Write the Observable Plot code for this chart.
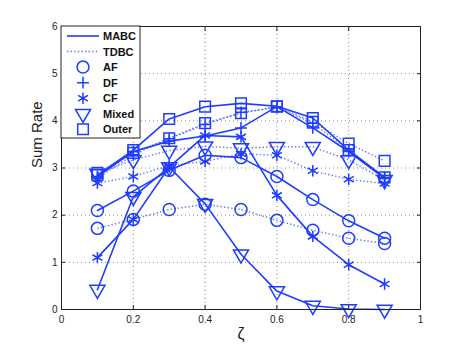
<!DOCTYPE html>
<html>
<head>
<meta charset="utf-8">
<script src="https://cdn.jsdelivr.net/npm/d3@7"></script>
<script src="https://cdn.jsdelivr.net/npm/@observablehq/plot@0.6"></script>
<style>
  html, body { margin: 0; padding: 0; background: #fff; }
  #chart { width: 463px; height: 348px; }
</style>
</head>
<body>
<div id="chart"></div>
<script>
// ---- data ----
const zeta = [0.1, 0.2, 0.3, 0.4, 0.5, 0.6, 0.7, 0.8, 0.9];

const mabcAF    = [2.10, 2.51, 2.95, 3.27, 3.22, 2.82, 2.33, 1.88, 1.51];
const tdbcAF    = [1.72, 1.91, 2.12, 2.23, 2.12, 1.89, 1.68, 1.51, 1.40];
const mabcDF    = [2.82, 3.35, 3.57, 3.68, 3.85, 4.30, 3.85, 3.35, 2.78];
const tdbcDF    = [2.78, 3.28, 3.62, 3.92, 4.18, 4.28, 3.95, 3.38, 2.80];
const mabcCF    = [1.10, 1.91, 3.02, 3.69, 3.66, 2.42, 1.55, 0.95, 0.54];
const tdbcCF    = [2.68, 2.82, 3.05, 3.14, 3.30, 3.27, 2.94, 2.76, 2.67];
const mabcMixed = [0.42, 2.39, 3.02, 2.24, 1.17, 0.39, 0.08, 0.01, 0.00];
const tdbcMixed = [2.88, 3.17, 3.37, 3.46, 3.42, 3.45, 3.45, 3.17, 2.75];
const mabcOuter = [2.85, 3.38, 4.04, 4.30, 4.37, 4.31, 4.06, 3.38, 2.80];
const tdbcOuter = [2.90, 3.32, 3.63, 3.95, 4.16, 4.30, 3.98, 3.52, 3.15];

const schemes = ["MABC", "TDBC"];
const relays = ["AF", "DF", "CF", "Mixed", "Outer"];
const xTicks = [0, 0.2, 0.4, 0.6, 0.8, 1];
const xTickLabels = ["0", "0.2", "0.4", "0.6", "0.8", "1"];
const yTicks = [0, 1, 2, 3, 4, 5, 6];
const xLabel = "ζ";
const yLabel = "Sum Rate";

// ---- build table ----
const seriesValues = {
  MABC: {AF: mabcAF, DF: mabcDF, CF: mabcCF, Mixed: mabcMixed, Outer: mabcOuter},
  TDBC: {AF: tdbcAF, DF: tdbcDF, CF: tdbcCF, Mixed: tdbcMixed, Outer: tdbcOuter}
};
const rows = [];
for (const s of schemes) for (const r of relays)
  seriesValues[s][r].forEach((v, i) => rows.push({scheme: s, relay: r, x: zeta[i], y: v}));

const BLUE = "#1f3dff";
const symbolOf = {AF: "circle", DF: "plus", CF: "asterisk", Mixed: "triangle", Outer: "square"};
const rOf = {AF: 6, DF: 3.9, CF: 5.4, Mixed: 5.6, Outer: 6};
const DOT = "1.4,2.2";

const marks = [
  Plot.gridX(xTicks, {stroke: "#888", strokeOpacity: 1, strokeDasharray: "1,3"}),
  Plot.gridY(yTicks, {stroke: "#888", strokeOpacity: 1, strokeDasharray: "1,3"}),
];
for (const s of schemes) for (const r of relays) {
  const d = rows.filter(o => o.scheme === s && o.relay === r);
  marks.push(Plot.line(d, {
    x: "x", y: "y", stroke: BLUE,
    strokeWidth: s === "MABC" ? 1.6 : 1.4,
    strokeDasharray: s === "MABC" ? null : DOT,
    strokeLinecap: s === "MABC" ? "round" : "butt",
    strokeOpacity: s === "MABC" ? 1 : 0.7
  }));
}
for (const s of schemes) for (const r of relays) {
  const d = rows.filter(o => o.scheme === s && o.relay === r);
  marks.push(Plot.dot(d, {
    x: "x", y: "y", symbol: () => symbolOf[r], r: rOf[r],
    rotate: r === "Mixed" ? 180 : 0,
    stroke: BLUE, fill: "none", strokeWidth: 1.5
  }));
}
marks.push(
  Plot.frame({stroke: "#222", strokeWidth: 1}),
  Plot.axisX(xTicks, {tickSize: 0, tickPadding: 6, tickFormat: (d, i) => xTickLabels[i], fontSize: 10, label: null}),
  Plot.axisY(yTicks, {tickSize: 0, tickPadding: 4, fontSize: 10, label: null}),
  // inward MATLAB-style ticks on all four sides
  Plot.axisX(xTicks, {anchor: "bottom", tickSize: -4, text: null, label: null, stroke: "#222"}),
  Plot.axisX(xTicks, {anchor: "top", tickSize: -4, text: null, label: null, stroke: "#222"}),
  Plot.axisY(yTicks, {anchor: "left", tickSize: -4, text: null, label: null, stroke: "#222"}),
  Plot.axisY(yTicks, {anchor: "right", tickSize: -4, text: null, label: null, stroke: "#222"}),
  Plot.text([xLabel], {frameAnchor: "bottom", dy: 29, fontSize: 16}),
  Plot.text([yLabel], {frameAnchor: "left", dx: -24, rotate: -90, fontSize: 15})
);

const chart = Plot.plot({
  width: 463, height: 348,
  marginLeft: 61, marginRight: 43, marginTop: 26, marginBottom: 39,
  x: {domain: [0, 1]},
  y: {domain: [0, 6]},
  symbol: {type: "identity"},
  style: {fontFamily: "'Liberation Sans', Arial, sans-serif", fontSize: "10px", color: "#222", background: "#fff"},
  marks
});
document.getElementById("chart").appendChild(chart);

// ---- legend (inside the axes, upper-left) ----
const svg = d3.select(chart);
const lg = svg.append("g").attr("font-family", "'Liberation Sans', Arial, sans-serif").attr("text-anchor", "start");
lg.append("rect").attr("x", 61).attr("y", 26).attr("width", 79).attr("height", 112)
  .attr("fill", "#fff").attr("stroke", "#222").attr("stroke-width", 1);
const legendItems = [
  {label: "MABC", kind: "line"},
  {label: "TDBC", kind: "dotted"},
  ...relays.map(r => ({label: r, kind: r}))
];
const d3sym = {AF: d3.symbolCircle, DF: d3.symbolPlus, CF: d3.symbolAsterisk, Mixed: d3.symbolTriangle, Outer: d3.symbolSquare};
legendItems.forEach((it, i) => {
  const cy = 36 + i * 15.55;
  if (it.kind === "line" || it.kind === "dotted") {
    lg.append("line").attr("x1", 67).attr("x2", 99).attr("y1", cy).attr("y2", cy)
      .attr("stroke", BLUE).attr("stroke-width", it.kind === "line" ? 1.6 : 1.4)
      .attr("stroke-dasharray", it.kind === "line" ? null : DOT)
      .attr("stroke-opacity", it.kind === "line" ? 1 : 0.7);
  } else {
    const r = rOf[it.kind];
    lg.append("path")
      .attr("d", d3.symbol(d3sym[it.kind], Math.PI * r * r)())
      .attr("transform", `translate(83,${cy})` + (it.kind === "Mixed" ? " rotate(180)" : ""))
      .attr("fill", "none").attr("stroke", BLUE).attr("stroke-width", 1.5);
  }
  lg.append("text").attr("x", 103).attr("y", cy).attr("dy", "0.36em")
    .attr("font-size", 11).attr("font-weight", "bold").attr("fill", "#111").text(it.label);
});
</script>
</body>
</html>
